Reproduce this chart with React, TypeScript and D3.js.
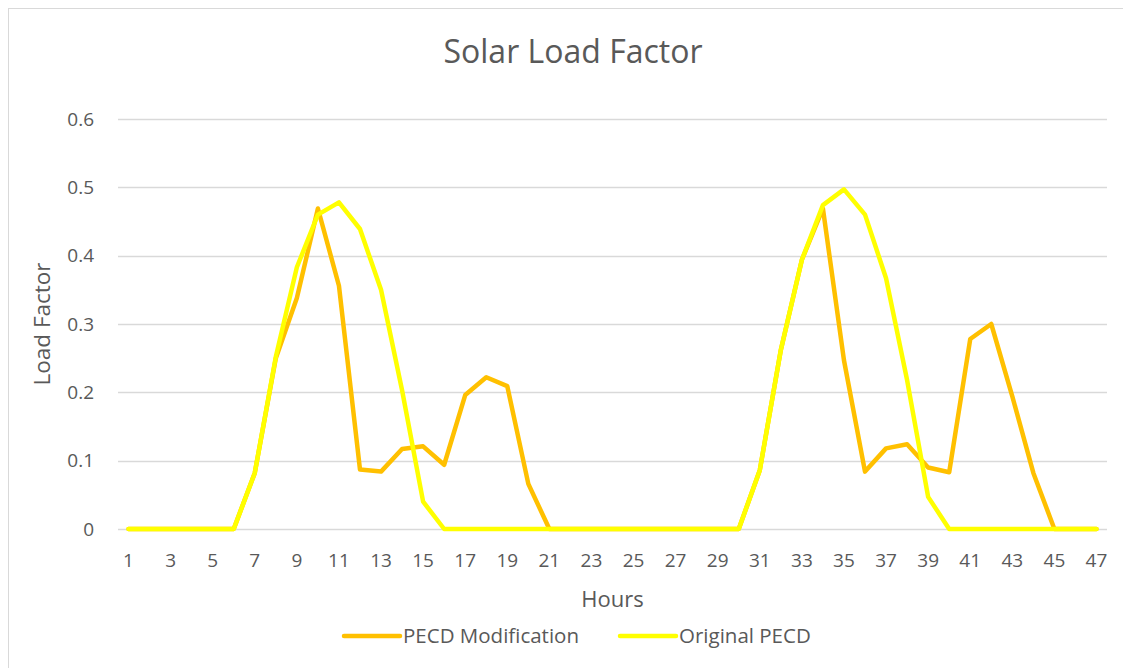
import React, { useEffect, useRef } from 'react';
import * as d3 from 'd3';

const hours = [
  1, 2, 3, 4, 5, 6, 7, 8, 9, 10, 11, 12, 13, 14, 15, 16, 17, 18, 19, 20, 21, 22, 23, 24,
  25, 26, 27, 28, 29, 30, 31, 32, 33, 34, 35, 36, 37, 38, 39, 40, 41, 42, 43, 44, 45, 46, 47,
];

const pecdModification = [
  0, 0, 0, 0, 0, 0, 0.082, 0.25, 0.338, 0.469, 0.356, 0.087, 0.084, 0.117, 0.121, 0.094,
  0.196, 0.222, 0.209, 0.066, 0, 0, 0, 0, 0, 0, 0, 0, 0, 0, 0.086, 0.262, 0.394, 0.469,
  0.247, 0.084, 0.118, 0.124, 0.09, 0.083, 0.278, 0.3, 0.194, 0.082, 0, 0, 0,
];

const originalPecd = [
  0, 0, 0, 0, 0, 0, 0.082, 0.252, 0.383, 0.46, 0.478, 0.439, 0.35, 0.203, 0.04, 0, 0, 0,
  0, 0, 0, 0, 0, 0, 0, 0, 0, 0, 0, 0, 0.086, 0.262, 0.394, 0.474, 0.497, 0.46, 0.367,
  0.218, 0.047, 0, 0, 0, 0, 0, 0, 0, 0,
];

const yTicks = [0, 0.1, 0.2, 0.3, 0.4, 0.5, 0.6];
const xTickLabels = hours.filter(h => h % 2 === 1);

const seriesNames = ['PECD Modification', 'Original PECD'];
const seriesColors = ['#FFC000', '#FFFF00'];

const App: React.FC = () => {
  const svgRef = useRef<SVGSVGElement>(null);

  useEffect(() => {
    if (!svgRef.current) return;

    const width = 1123;
    const height = 660;
    const plot = { left: 110, right: 1099, top: 111, bottom: 521 };
    const font = "'Open Sans', sans-serif";
    const textColor = '#595959';

    const svg = d3.select(svgRef.current)
      .attr('width', width)
      .attr('height', height)
      .html('');

    // chart border
    svg.append('rect')
      .attr('x', 0.5)
      .attr('y', 0.5)
      .attr('width', width + 20)
      .attr('height', height + 20)
      .attr('fill', '#fff')
      .attr('stroke', '#d9d9d9')
      .attr('stroke-width', 1);

    const xScale = d3.scaleBand<number>()
      .domain(hours)
      .range([plot.left, plot.right]);

    const yScale = d3.scaleLinear()
      .domain([0, 0.6])
      .range([plot.bottom, plot.top]);

    const xPos = (h: number) => (xScale(h) as number) + xScale.bandwidth() / 2;

    // gridlines
    svg.append('g')
      .selectAll('line')
      .data(yTicks)
      .join('line')
      .attr('x1', plot.left)
      .attr('x2', plot.right)
      .attr('y1', d => Math.round(yScale(d)) + 0.5)
      .attr('y2', d => Math.round(yScale(d)) + 0.5)
      .attr('stroke', '#d9d9d9')
      .attr('stroke-width', 1.3);

    // y tick labels
    svg.append('g')
      .selectAll('text')
      .data(yTicks)
      .join('text')
      .attr('x', 86)
      .attr('y', d => yScale(d))
      .attr('dy', '0.35em')
      .attr('text-anchor', 'end')
      .attr('font-family', font)
      .attr('font-size', 19)
      .attr('fill', textColor)
      .text(d => String(d));

    // x tick labels
    svg.append('g')
      .selectAll('text')
      .data(xTickLabels)
      .join('text')
      .attr('x', d => xPos(d))
      .attr('y', 559)
      .attr('text-anchor', 'middle')
      .attr('font-family', font)
      .attr('font-size', 19)
      .attr('fill', textColor)
      .text(d => String(d));

    // lines
    const line = d3.line<number>()
      .x((_, i) => xPos(hours[i]))
      .y(d => yScale(d));

    [pecdModification, originalPecd].forEach((series, i) => {
      svg.append('path')
        .datum(series)
        .attr('fill', 'none')
        .attr('stroke', seriesColors[i])
        .attr('stroke-width', 4.5)
        .attr('stroke-linejoin', 'round')
        .attr('stroke-linecap', 'round')
        .attr('d', line);
    });

    // title
    svg.append('text')
      .attr('x', 565)
      .attr('y', 55)
      .attr('text-anchor', 'middle')
      .attr('font-family', font)
      .attr('font-size', 32)
      .attr('fill', textColor)
      .text('Solar Load Factor');

    // axis titles
    svg.append('text')
      .attr('x', (plot.left + plot.right) / 2)
      .attr('y', 599)
      .attr('text-anchor', 'middle')
      .attr('font-family', font)
      .attr('font-size', 22)
      .attr('fill', textColor)
      .text('Hours');

    svg.append('text')
      .attr('transform', `translate(42,${(plot.top + plot.bottom) / 2}) rotate(-90)`)
      .attr('text-anchor', 'middle')
      .attr('font-family', font)
      .attr('font-size', 22.5)
      .attr('fill', textColor)
      .text('Load Factor');

    // legend
    const legendX = [336, 612];
    const legend = svg.append('g');
    seriesNames.forEach((name, i) => {
      legend.append('line')
        .attr('x1', legendX[i])
        .attr('x2', legendX[i] + 56)
        .attr('y1', 628)
        .attr('y2', 628)
        .attr('stroke', seriesColors[i])
        .attr('stroke-width', 4.5)
        .attr('stroke-linecap', 'round');
      legend.append('text')
        .attr('x', legendX[i] + 59)
        .attr('y', 628)
        .attr('dy', '0.35em')
        .attr('font-family', font)
        .attr('font-size', 20.5)
        .attr('fill', textColor)
        .text(name);
    });
  }, []);

  return <svg ref={svgRef} style={{ display: 'block' }}></svg>;
};

export default App;
